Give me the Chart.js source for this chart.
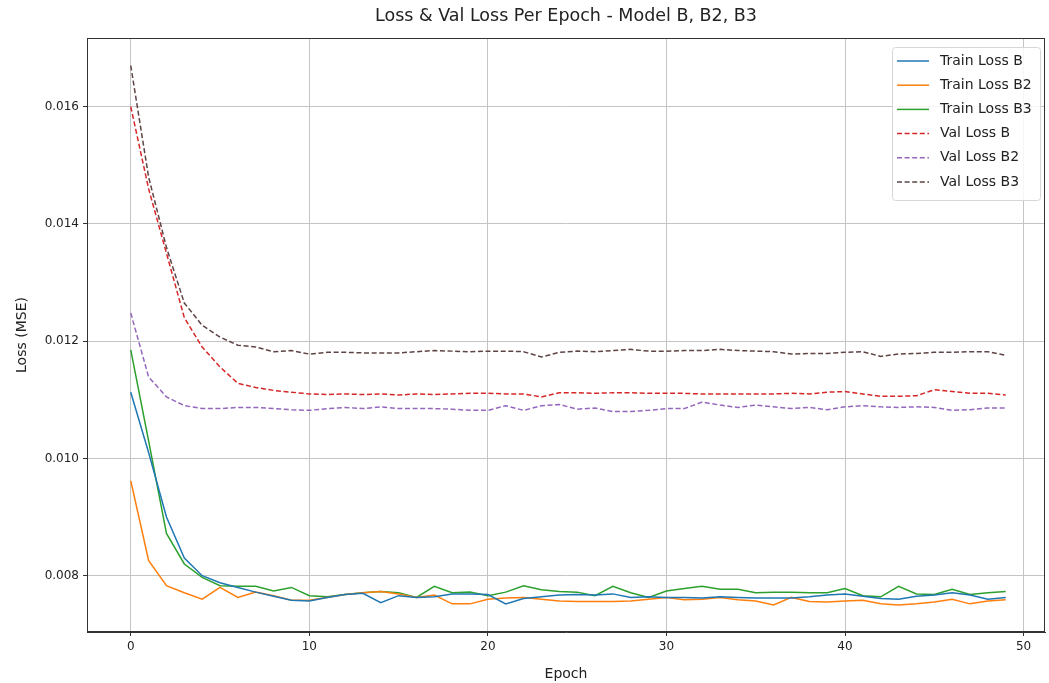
<!DOCTYPE html>
<html><head><meta charset="utf-8">
<script src="https://cdn.jsdelivr.net/npm/chart.js@4.4.0/dist/chart.umd.min.js"></script>
<style>html,body{margin:0;padding:0;background:#fff;} #wrap{width:1049px;height:683px;}</style>
</head><body><div id="wrap"><canvas id="c" width="1049" height="683"></canvas></div>
<script>
const epochs = [0,1,2,3,4,5,6,7,8,9,10,11,12,13,14,15,16,17,18,19,20,21,22,23,24,25,26,27,28,29,30,31,32,33,34,35,36,37,38,39,40,41,42,43,44,45,46,47,48,49];
const xTicks = [0,10,20,30,40,50];
const yTicks = [0.008,0.010,0.012,0.014,0.016];

const trainB = [0.01113,0.01010,0.00900,0.00830,0.00800,0.00788,0.00780,0.00772,0.00765,0.00758,0.00757,0.00763,0.00768,0.00770,0.00754,0.00766,0.00763,0.00764,0.00769,0.00769,0.00768,0.00752,0.00761,0.00764,0.00767,0.00768,0.00767,0.00769,0.00763,0.00764,0.00763,0.00763,0.00762,0.00764,0.00763,0.00762,0.00762,0.00762,0.00764,0.00767,0.00769,0.00765,0.00761,0.00760,0.00765,0.00767,0.00771,0.00767,0.00760,0.00763];
const trainB2 = [0.00962,0.00826,0.00783,0.00771,0.00760,0.00780,0.00763,0.00772,0.00766,0.00758,0.00758,0.00763,0.00768,0.00771,0.00773,0.00769,0.00763,0.00767,0.00752,0.00752,0.00760,0.00762,0.00763,0.00760,0.00757,0.00756,0.00756,0.00756,0.00757,0.00760,0.00763,0.00759,0.00760,0.00763,0.00759,0.00757,0.00750,0.00763,0.00756,0.00755,0.00757,0.00758,0.00752,0.00750,0.00752,0.00755,0.00760,0.00752,0.00757,0.00759];
const trainB3 = [0.01185,0.01030,0.00872,0.00820,0.00797,0.00783,0.00782,0.00782,0.00774,0.00780,0.00766,0.00764,0.00768,0.00771,0.00773,0.00771,0.00763,0.00782,0.00771,0.00772,0.00766,0.00772,0.00783,0.00776,0.00773,0.00772,0.00766,0.00782,0.00771,0.00763,0.00774,0.00778,0.00782,0.00777,0.00777,0.00771,0.00772,0.00772,0.00771,0.00771,0.00778,0.00766,0.00764,0.00782,0.00769,0.00768,0.00777,0.00768,0.00771,0.00773];
const valB = [0.01600,0.01460,0.01350,0.01240,0.01190,0.01156,0.01128,0.01121,0.01116,0.01113,0.01110,0.01109,0.01110,0.01109,0.01110,0.01108,0.01110,0.01109,0.01110,0.01111,0.01111,0.01110,0.01110,0.01105,0.01112,0.01112,0.01111,0.01112,0.01112,0.01111,0.01111,0.01111,0.01110,0.01110,0.01110,0.01110,0.01110,0.01111,0.01110,0.01113,0.01114,0.01110,0.01106,0.01106,0.01107,0.01117,0.01114,0.01111,0.01111,0.01108];
const valB2 = [0.01248,0.01139,0.01105,0.01090,0.01085,0.01085,0.01087,0.01087,0.01085,0.01083,0.01082,0.01085,0.01087,0.01085,0.01088,0.01085,0.01085,0.01085,0.01084,0.01082,0.01082,0.01090,0.01082,0.01090,0.01092,0.01084,0.01086,0.01080,0.01080,0.01082,0.01085,0.01085,0.01096,0.01091,0.01087,0.01091,0.01088,0.01085,0.01087,0.01083,0.01088,0.01090,0.01088,0.01087,0.01088,0.01087,0.01082,0.01083,0.01086,0.01086];
const valB3 = [0.01670,0.01480,0.01360,0.01265,0.01227,0.01207,0.01193,0.01190,0.01182,0.01184,0.01178,0.01181,0.01181,0.01180,0.01180,0.01180,0.01182,0.01184,0.01183,0.01182,0.01183,0.01183,0.01182,0.01173,0.01181,0.01183,0.01182,0.01184,0.01186,0.01183,0.01183,0.01184,0.01184,0.01186,0.01184,0.01183,0.01182,0.01178,0.01179,0.01179,0.01181,0.01182,0.01174,0.01178,0.01179,0.01181,0.01181,0.01182,0.01182,0.01176];

const titleText = 'Loss & Val Loss Per Epoch - Model B, B2, B3';
const FONT = "'DejaVu Sans', sans-serif";

function pts(arr){ return epochs.map((e,i)=>({x:e,y:arr[i]})); }
function ds(label, arr, color, dashed){
  return {label, data: pts(arr), borderColor: color, backgroundColor: color,
    borderWidth: 1.5, pointRadius: 0, tension: 0, fill: false,
    borderDash: dashed ? [5,2.6] : []};
}

const framePlugin = {
  id: 'frame',
  afterDraw(chart){
    const ctx = chart.ctx, a = chart.chartArea;
    ctx.save();
    ctx.strokeStyle = '#333'; ctx.lineWidth = 1;
    ctx.strokeRect(Math.round(a.left)+0.5, Math.round(a.top)+0.5, Math.round(a.right-a.left)-1, Math.round(a.bottom-a.top)-1);
    ctx.fillStyle = '#222';
    ctx.font = '17.5px ' + FONT;
    ctx.textAlign = 'center'; ctx.textBaseline = 'middle';
    ctx.fillText(titleText, (a.left + a.right)/2, 16);
    const bx = a.right - 153, by = a.top + 9, bw = 148, bh = 153;
    ctx.fillStyle = 'rgba(255,255,255,0.85)';
    ctx.strokeStyle = '#d6d6d6'; ctx.lineWidth = 1;
    ctx.beginPath();
    if (ctx.roundRect) ctx.roundRect(bx+0.5, by+0.5, bw, bh, 3); else ctx.rect(bx+0.5, by+0.5, bw, bh);
    ctx.fill(); ctx.stroke();
    ctx.font = '14px ' + FONT;
    ctx.textAlign = 'left'; ctx.textBaseline = 'middle';
    chart.data.datasets.forEach((d,i)=>{
      const y = by + 14 + i*24.2;
      ctx.strokeStyle = d.borderColor; ctx.lineWidth = 1.5;
      ctx.setLineDash(d.borderDash || []);
      ctx.beginPath(); ctx.moveTo(bx+5, y); ctx.lineTo(bx+37, y); ctx.stroke();
      ctx.setLineDash([]);
      ctx.fillStyle = '#222';
      ctx.fillText(d.label, bx+48, y);
    });
    ctx.restore();
  }
};

new Chart(document.getElementById('c'), {
  type: 'line',
  data: { datasets: [
    ds('Train Loss B', trainB, '#1f77b4', false),
    ds('Train Loss B2', trainB2, '#ff7f0e', false),
    ds('Train Loss B3', trainB3, '#2ca02c', false),
    ds('Val Loss B', valB, '#d62728', true),
    ds('Val Loss B2', valB2, '#9467bd', true),
    ds('Val Loss B3', valB3, '#5e4444', true)
  ]},
  options: {
    responsive: false, animation: false,
    layout: { padding: { top: 38, left: 14, right: 4, bottom: 0 } },
    plugins: { legend: { display: false }, tooltip: { enabled: false }, title: { display: false } },
    scales: {
      x: {
        type: 'linear', min: -2.45, max: 51.2,
        afterBuildTicks: s => { s.ticks = xTicks.map(v=>({value:v})); },
        afterFit: s => { s.height = 51; },
        ticks: { font: { family: FONT, size: 12 }, color: '#222', padding: 4, maxRotation: 0, callback: v => String(v) },
        grid: { color: '#c4c4c4', lineWidth: 1, tickLength: 4, tickColor: '#333', drawTicks: true },
        border: { display: true, color: '#333', width: 1 },
        title: { display: true, text: 'Epoch', font: { family: FONT, size: 14 }, color: '#222', padding: 0 }
      },
      y: {
        type: 'linear', min: 0.00704, max: 0.01717,
        afterBuildTicks: s => { s.ticks = yTicks.map(v=>({value:v})); },
        afterFit: s => { s.width = 73; },
        ticks: { font: { family: FONT, size: 12 }, color: '#222', padding: 4, callback: v => v.toFixed(3) },
        grid: { color: '#c4c4c4', lineWidth: 1, tickLength: 4, tickColor: '#333', drawTicks: true },
        border: { display: true, color: '#333', width: 1 },
        title: { display: true, text: 'Loss (MSE)', font: { family: FONT, size: 14 }, color: '#222', padding: 0 }
      }
    }
  },
  plugins: [framePlugin]
});
</script></body></html>
